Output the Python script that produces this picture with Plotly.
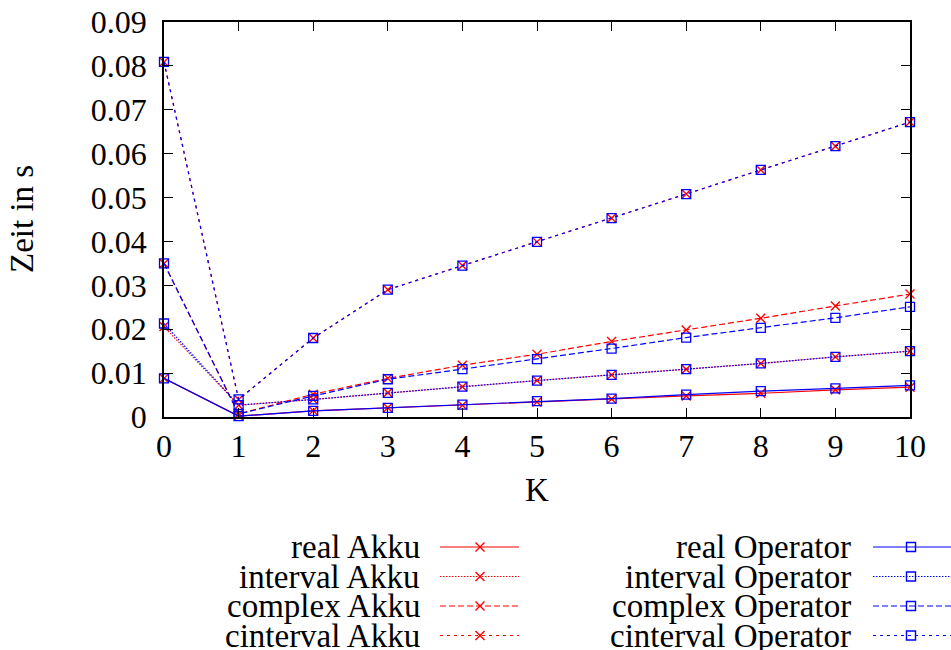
import plotly.graph_objects as go

# Laufzeitmessung: Akkumulator- vs. Operator-Variante je Datentyp
K = list(range(11))

real_akku = [0.0088, 0.0002, 0.0014, 0.0021, 0.0027, 0.0034, 0.0041, 0.0048, 0.0054, 0.0062, 0.0068]
interval_akku = [0.0206, 0.0027, 0.0040, 0.0055, 0.0069, 0.0083, 0.0096, 0.0109, 0.0122, 0.0137, 0.0150]
complex_akku = [0.0350, 0.0007, 0.0052, 0.0088, 0.0118, 0.0143, 0.0172, 0.0198, 0.0225, 0.0253, 0.0280]
cinterval_akku = [0.0809, 0.0040, 0.0180, 0.0290, 0.0345, 0.0399, 0.0453, 0.0508, 0.0563, 0.0617, 0.0672]

real_op = [0.0088, 0.0002, 0.0014, 0.0021, 0.0028, 0.0036, 0.0042, 0.0051, 0.0059, 0.0065, 0.0072]
interval_op = [0.0213, 0.0027, 0.0040, 0.0055, 0.0069, 0.0083, 0.0096, 0.0109, 0.0122, 0.0137, 0.0150]
complex_op = [0.0350, 0.0007, 0.0048, 0.0086, 0.0109, 0.0132, 0.0156, 0.0181, 0.0203, 0.0226, 0.0251]
cinterval_op = [0.0809, 0.0040, 0.0180, 0.0290, 0.0345, 0.0399, 0.0453, 0.0508, 0.0563, 0.0617, 0.0672]

y_ticks = [0, 0.01, 0.02, 0.03, 0.04, 0.05, 0.06, 0.07, 0.08, 0.09]
y_ticktext = ["0", "0.01", "0.02", "0.03", "0.04", "0.05", "0.06", "0.07", "0.08", "0.09"]

names_akku = ["real Akku", "interval Akku", "complex Akku", "cinterval Akku"]
names_op = ["real Operator", "interval Operator", "complex Operator", "cinterval Operator"]

# ---- styling ----
W, H = 951, 650
ML, MT = 164, 22
PLOT_RIGHT, PLOT_BOTTOM = 910, 417
KEY_TOP = 520
FONT = "Liberation Serif"
FS_TICK = 32
FS_TEXT = 33
RED, BLUE = "#ff0000", "#0000ff"
DASHES = ["solid", "1.5px,1.5px", "6px,3px", "3px,4px"]
LW = 1.2


def px_x(p):
    return (p - ML) / (W - ML)


def px_y(p):
    return (H - p) / (H - MT)


fig = go.Figure()

series_akku = [real_akku, interval_akku, complex_akku, cinterval_akku]
series_op = [real_op, interval_op, complex_op, cinterval_op]

for name, ys, dash in zip(names_akku, series_akku, DASHES):
    fig.add_trace(go.Scatter(
        x=K, y=ys, name=name, mode="lines+markers", cliponaxis=False,
        line=dict(color=RED, width=LW, dash=dash),
        marker=dict(symbol="x-thin-open", size=9, line=dict(color=RED, width=1.4)),
    ))
for name, ys, dash in zip(names_op, series_op, DASHES):
    fig.add_trace(go.Scatter(
        x=K, y=ys, name=name, mode="lines+markers", cliponaxis=False,
        line=dict(color=BLUE, width=LW, dash=dash),
        marker=dict(symbol="square-open", size=9, color=BLUE, line=dict(color=BLUE, width=1.3)),
    ))

# ---- key below the plot: text right-aligned, sample to the right ----
key_rows = [547, 576.5, 606, 635.5]
key_cols = [
    dict(text_right=422, x0=440, xm=480, x1=519, names=names_akku, color=RED, symbol="x-thin-open"),
    dict(text_right=853, x0=873, xm=911, x1=951, names=names_op, color=BLUE, symbol="square-open"),
]
annotations = []
for col in key_cols:
    for name, yrow, dash in zip(col["names"], key_rows, DASHES):
        fig.add_trace(go.Scatter(
            x=[col["x0"], col["x1"]], y=[yrow, yrow], mode="lines", xaxis="x2", yaxis="y2",
            showlegend=False, hoverinfo="skip", cliponaxis=False,
            line=dict(color=col["color"], width=LW, dash=dash),
        ))
        fig.add_trace(go.Scatter(
            x=[col["xm"]], y=[yrow], mode="markers", xaxis="x2", yaxis="y2",
            showlegend=False, hoverinfo="skip", cliponaxis=False,
            marker=dict(symbol=col["symbol"], size=9, color=col["color"],
                        line=dict(color=col["color"], width=1.4)),
        ))
        annotations.append(dict(
            text=name, xref="paper", yref="paper", x=px_x(col["text_right"]), y=px_y(yrow),
            xanchor="right", yanchor="middle", showarrow=False,
            font=dict(family=FONT, size=FS_TEXT, color="black"),
        ))

# axis titles
annotations.append(dict(text="K", xref="paper", yref="paper", x=px_x(537), y=px_y(490),
                        xanchor="center", yanchor="middle", showarrow=False,
                        font=dict(family=FONT, size=FS_TEXT, color="black")))
annotations.append(dict(text="Zeit in s", xref="paper", yref="paper", x=px_x(22), y=px_y(219),
                        xanchor="center", yanchor="middle", showarrow=False, textangle=-90,
                        font=dict(family=FONT, size=FS_TEXT, color="black")))

axis_common = dict(
    showgrid=False, zeroline=False, showline=True, linecolor="black", linewidth=1.6,
    mirror="allticks", ticks="inside", ticklen=9, tickwidth=1.2, tickcolor="black",
    tickfont=dict(family=FONT, size=FS_TICK, color="black"),
)

fig.update_layout(
    width=W, height=H,
    margin=dict(l=ML, r=0, t=MT, b=0, pad=0, autoexpand=False),
    paper_bgcolor="white", plot_bgcolor="rgba(0,0,0,0)",
    showlegend=False,
    xaxis=dict(domain=[0, px_x(PLOT_RIGHT)], range=[0, 10], tickvals=K,
               ticklabelstandoff=0, **axis_common),
    yaxis=dict(domain=[px_y(PLOT_BOTTOM), 1], range=[0, 0.09], tickvals=y_ticks,
               ticktext=y_ticktext, ticklabelstandoff=9, **axis_common),
    xaxis2=dict(domain=[0, 1], range=[ML, W], visible=False, anchor="y2"),
    yaxis2=dict(domain=[0, px_y(KEY_TOP)], range=[H, KEY_TOP], visible=False, anchor="x2"),
    annotations=annotations,
)

fig.write_html("out.html")
